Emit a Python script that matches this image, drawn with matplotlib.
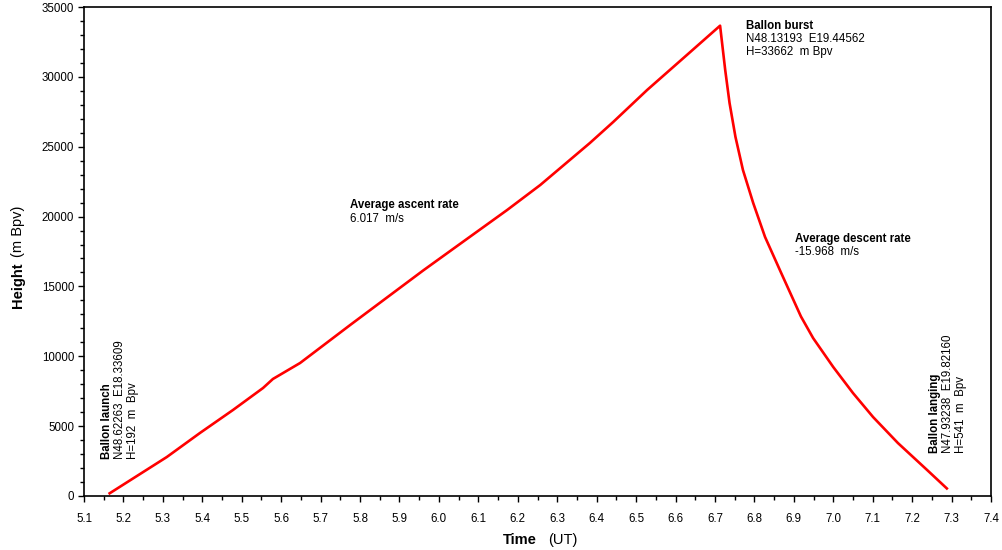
import matplotlib
matplotlib.use('Agg')
import matplotlib.pyplot as plt
from matplotlib.ticker import MultipleLocator

plt.rcParams['font.family'] = ['Liberation Sans', 'DejaVu Sans']

# flight track: time (UT, hours) and height (m Bpv)
time_ut = [5.165, 5.31, 5.394, 5.478, 5.554, 5.579, 5.648, 5.775, 5.96, 6.046,
           6.173, 6.257, 6.383, 6.442, 6.528, 6.629, 6.713,
           6.726, 6.737, 6.752, 6.771, 6.797, 6.827, 6.868, 6.918, 6.949,
           7.0, 7.05, 7.101, 7.164, 7.238, 7.288]
height = [192, 2790, 4510, 6160, 7730, 8375, 9520, 12240, 16140, 17890,
          20470, 22260, 25270, 26770, 29060, 31570, 33662,
          30490, 28130, 25700, 23330, 20970, 18540, 15960, 12850, 11300,
          9230, 7370, 5650, 3790, 1860, 541]

burst_text = ['Ballon burst', 'N48.13193  E19.44562', 'H=33662  m Bpv']
launch_text = ['Ballon launch', 'N48.62263  E18.33609', 'H=192  m  Bpv']
landing_text = ['Ballon langing', 'N47.93238  E19.82160', 'H=541  m  Bpv']
ascent_text = ['Average ascent rate', '6.017  m/s']
descent_text = ['Average descent rate', '-15.968  m/s']

fig = plt.figure(figsize=(10.02, 5.5), dpi=100)
ax = fig.add_axes([84 / 1002, 54 / 550, 907 / 1002, 489 / 550])

ax.plot(time_ut, height, color='#ff0000', linewidth=1.9)

ax.set_xlim(5.1, 7.4)
ax.set_ylim(0, 35000)
ax.xaxis.set_major_locator(MultipleLocator(0.1))
ax.xaxis.set_minor_locator(MultipleLocator(0.05))
ax.yaxis.set_major_locator(MultipleLocator(5000))
ax.yaxis.set_minor_locator(MultipleLocator(1000))
ax.xaxis.set_major_formatter(plt.FuncFormatter(lambda v, p: f'{v:.1f}'))
ax.yaxis.set_major_formatter(plt.FuncFormatter(lambda v, p: f'{v:.0f}'))

ax.tick_params(which='major', direction='out', length=4, width=1, labelsize=8.3, colors='black')
ax.tick_params(which='minor', direction='out', length=3, width=1)
ax.tick_params(axis='x', which='major', pad=8)
ax.tick_params(axis='y', which='major', pad=3)
for s in ax.spines.values():
    s.set_linewidth(1.2)

# axis titles: bold name + plain unit
fig.text(520 / 1002, 1 - 540 / 550, 'Time', fontsize=10.5, fontweight='bold', ha='center', va='center')
fig.text(563 / 1002, 1 - 540 / 550, '(UT)', fontsize=10.5, ha='center', va='center')
fig.text(18 / 1002, 1 - 285 / 550, 'Height', fontsize=10.5, fontweight='bold', rotation=90, ha='center', va='center')
fig.text(18 / 1002, 1 - 231 / 550, '(m Bpv)', fontsize=10.5, rotation=90, ha='center', va='center')


def block(x, y, lines, dy=13):
    # horizontal note, first line bold
    for i, t in enumerate(lines):
        fig.text(x / 1002, 1 - (y + i * dy) / 550, t, fontsize=8.3,
                 fontweight='bold' if i == 0 else 'normal', ha='left', va='center')


def vblock(x, y, lines, dx=13):
    # rotated note, bottom-aligned
    for i, t in enumerate(lines):
        fig.text((x + i * dx) / 1002, 1 - y / 550, t, fontsize=8.3, rotation=90,
                 fontweight='bold' if i == 0 else 'normal', ha='center', va='bottom')


block(746, 26, burst_text)
block(350, 205, ascent_text, dy=14)
block(795, 239, descent_text, dy=13)
vblock(107, 459, launch_text)
vblock(935, 453, landing_text)

fig.savefig('out.png', dpi=100)
